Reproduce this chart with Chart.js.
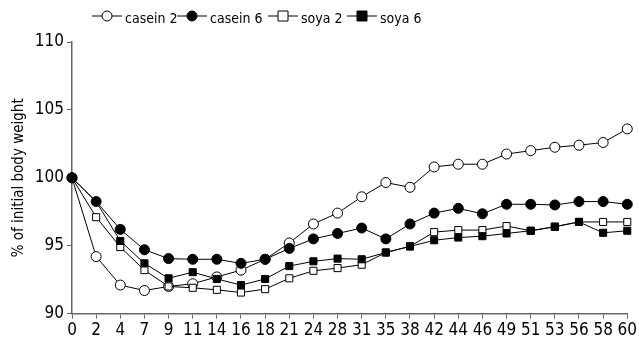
<!DOCTYPE html>
<html>
<head>
<meta charset="utf-8">
<script src="https://cdn.jsdelivr.net/npm/chart.js@4.4.1/dist/chart.umd.min.js"></script>
<style>
  body { margin: 0; background: #fff; }
  #wrap { width: 639px; height: 343px; position: relative; }
</style>
</head>
<body>
<div id="wrap"><canvas id="weightChart"></canvas></div>
<script>
// Data
const days = ['0','2','4','7','9','11','14','16','18','21','24','28','31','35','38','42','44','46','49','51','53','56','58','60'];
const casein2 = [100, 94.2, 92.1, 91.7, 92.0, 92.2, 92.7, 93.2, 94.0, 95.2, 96.6, 97.4, 98.6, 99.65, 99.3, 100.8, 101.0, 101.0, 101.75, 102.0, 102.25, 102.4, 102.6, 103.6];
const casein6 = [100, 98.25, 96.2, 94.7, 94.05, 94.0, 94.0, 93.7, 94.0, 94.8, 95.5, 95.9, 96.3, 95.5, 96.6, 97.4, 97.75, 97.35, 98.05, 98.05, 98.0, 98.25, 98.25, 98.05];
const soya2 = [100, 97.1, 94.9, 93.2, 92.0, 91.9, 91.75, 91.55, 91.8, 92.6, 93.15, 93.35, 93.6, 94.5, 94.95, 96.0, 96.15, 96.15, 96.45, 96.1, 96.4, 96.75, 96.75, 96.75];
const soya6 = [100, 98.25, 95.35, 93.7, 92.6, 93.05, 92.55, 92.1, 92.55, 93.5, 93.85, 94.05, 94.0, 94.5, 94.95, 95.4, 95.6, 95.7, 95.9, 96.1, 96.4, 96.75, 95.95, 96.1];
const yTicks = [90, 95, 100, 105, 110];

const FONT = "'DejaVu Sans Condensed', 'Liberation Sans', Arial, sans-serif";
const AXIS = '#666';

function series(label, data, style, fill, order) {
    return {
        label, data, order,
        borderColor: '#000', borderWidth: 1,
        pointStyle: style, pointRadius: 5, pointHoverRadius: 5,
        pointBackgroundColor: fill, pointBorderColor: '#000', pointBorderWidth: 1,
        tension: 0
    };
}

// legend drawn by hand: line + marker + text
const legendX = [92, 177, 268, 347];
const lineLegend = {
    id: 'lineLegend',
    afterDraw(chart) {
        const c = chart.ctx;
        const y = 16;
        c.save();
        c.font = '14px ' + FONT;
        c.textBaseline = 'middle';
        chart.data.datasets.forEach((ds, i) => {
            const x = legendX[i];
            c.strokeStyle = '#000'; c.lineWidth = 1;
            c.beginPath(); c.moveTo(x, y); c.lineTo(x + 30, y); c.stroke();
            c.fillStyle = ds.pointBackgroundColor;
            c.beginPath();
            if (ds.pointStyle === 'circle') c.arc(x + 15, y, 5, 0, Math.PI * 2);
            else c.rect(x + 10, y - 5, 10, 10);
            c.fill(); c.stroke();
            c.fillStyle = '#000';
            c.fillText(ds.label, x + 33, y + 3);
        });
        c.restore();
    }
};

new Chart(document.getElementById('weightChart'), {
    type: 'line',
    data: {
        labels: days,
        datasets: [
            series('casein 2', casein2, 'circle', '#fff', 4),
            series('casein 6', casein6, 'circle', '#000', 3),
            series('soya 2', soya2, 'rect', '#fff', 2),
            series('soya 6', soya6, 'rect', '#000', 1)
        ]
    },
    options: {
        responsive: true,
        maintainAspectRatio: false,
        animation: false,
        layout: { padding: { top: 42, right: 10, left: 0, bottom: 0 } },
        plugins: { legend: { display: false }, tooltip: { enabled: false } },
        scales: {
            x: {
                offset: false,
                grid: { drawOnChartArea: false, color: AXIS, tickLength: 5 },
                border: { color: AXIS, width: 1.5 },
                ticks: { color: '#000', font: { family: FONT, size: 17 }, padding: 2, maxRotation: 0, autoSkip: false }
            },
            y: {
                min: 90, max: 110,
                afterBuildTicks: (s) => { s.ticks = yTicks.map(v => ({ value: v })); },
                afterFit: (s) => { s.width = 72; },
                grid: { drawOnChartArea: false, color: AXIS, tickLength: 5 },
                border: { color: AXIS, width: 1.5 },
                ticks: { color: '#000', font: { family: FONT, size: 17 }, padding: 3 },
                title: { display: true, text: '% of initial body weight', color: '#000', font: { family: FONT, size: 15 }, padding: { top: 10, bottom: 0 } }
            }
        }
    },
    plugins: [lineLegend]
});
</script>
</body>
</html>
